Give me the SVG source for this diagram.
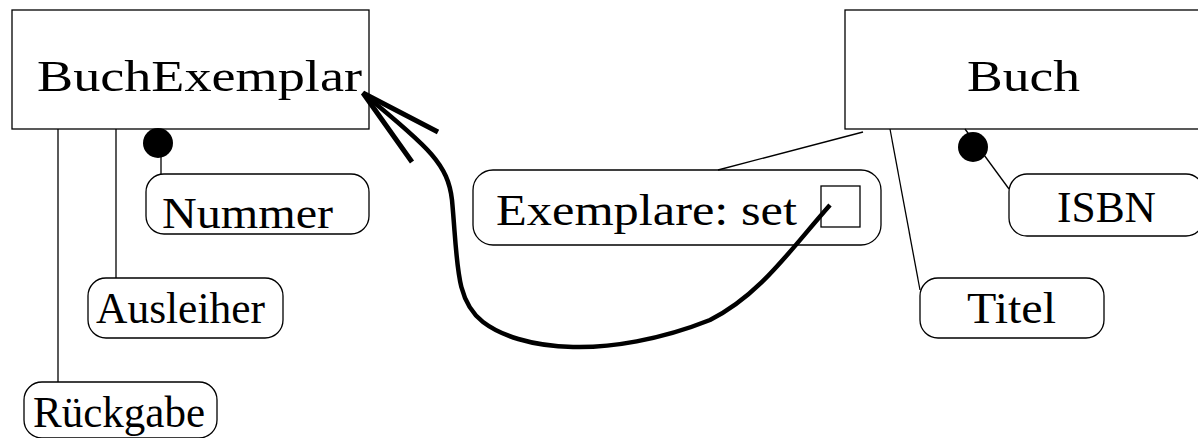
<svg xmlns="http://www.w3.org/2000/svg" width="1198" height="438" viewBox="0 0 1198 438">
<style>
.box{fill:#fff;stroke:#000;stroke-width:1.3}
.t{font-family:"Liberation Serif","DejaVu Serif",serif;font-size:44px;fill:#000}
.ln{fill:none;stroke:#000;stroke-width:1.3}
.dot{fill:#000}
</style>
<rect width="1198" height="438" fill="#fff"/>
<g id="BuchExemplar">
<rect class="box" x="12" y="10" width="357" height="119"/>
<text class="t" x="37" y="91" textLength="325" lengthAdjust="spacingAndGlyphs">BuchExemplar</text>
</g>
<g id="Nummer">
<rect class="box" x="146" y="174" width="223" height="60" rx="18"/>
<text class="t" x="162" y="228" textLength="171" lengthAdjust="spacingAndGlyphs">Nummer</text>
</g>
<g id="Ausleiher">
<rect class="box" x="88" y="278" width="195" height="60" rx="18"/>
<text class="t" x="96" y="323" textLength="169" lengthAdjust="spacingAndGlyphs">Ausleiher</text>
</g>
<g id="Rueckgabe">
<rect class="box" x="24" y="382" width="193" height="56" rx="18"/>
<text class="t" x="33" y="427" textLength="172" lengthAdjust="spacingAndGlyphs">Rückgabe</text>
</g>
<g id="Buch">
<rect class="box" x="845" y="10" width="360" height="119"/>
<text class="t" x="967" y="91" textLength="113" lengthAdjust="spacingAndGlyphs">Buch</text>
</g>
<g id="Exemplare">
<rect class="box" x="473" y="170" width="408" height="75" rx="20"/>
<text class="t" x="496" y="225" textLength="301" lengthAdjust="spacingAndGlyphs">Exemplare: set</text>
<rect class="box" x="821" y="186" width="39" height="41"/>
</g>
<g id="Titel">
<rect class="box" x="920" y="278" width="184" height="60" rx="18"/>
<text class="t" x="967" y="323" textLength="89" lengthAdjust="spacingAndGlyphs">Titel</text>
</g>
<g id="ISBN">
<rect class="box" x="1009" y="174" width="195" height="62" rx="18"/>
<text class="t" x="1057" y="222" textLength="99" lengthAdjust="spacingAndGlyphs">ISBN</text>
</g>
<g id="connectors">
<line class="ln" x1="58" y1="129" x2="58" y2="382"/>
<line class="ln" x1="116" y1="129" x2="116" y2="278"/>
<line class="ln" x1="161" y1="150" x2="161" y2="174"/>
<line class="ln" x1="863" y1="132" x2="718" y2="170"/>
<line class="ln" x1="890" y1="129" x2="920" y2="290"/>
<line class="ln" x1="965" y1="129" x2="1009" y2="189"/>
<circle class="dot" cx="158" cy="143" r="15"/>
<circle class="dot" cx="973" cy="147" r="15"/>
<path d="M830,205 C790,250 760,295 710,320 C660,340 610,348 573,347 C530,346 500,335 483,322 C455,300 458,265 452,200 C448,165 430,148 365,95" fill="none" stroke="#000" stroke-width="4.5"/>
<path d="M438,132 L363,93 L412,162" fill="none" stroke="#000" stroke-width="5"/>
</g>
</svg>
